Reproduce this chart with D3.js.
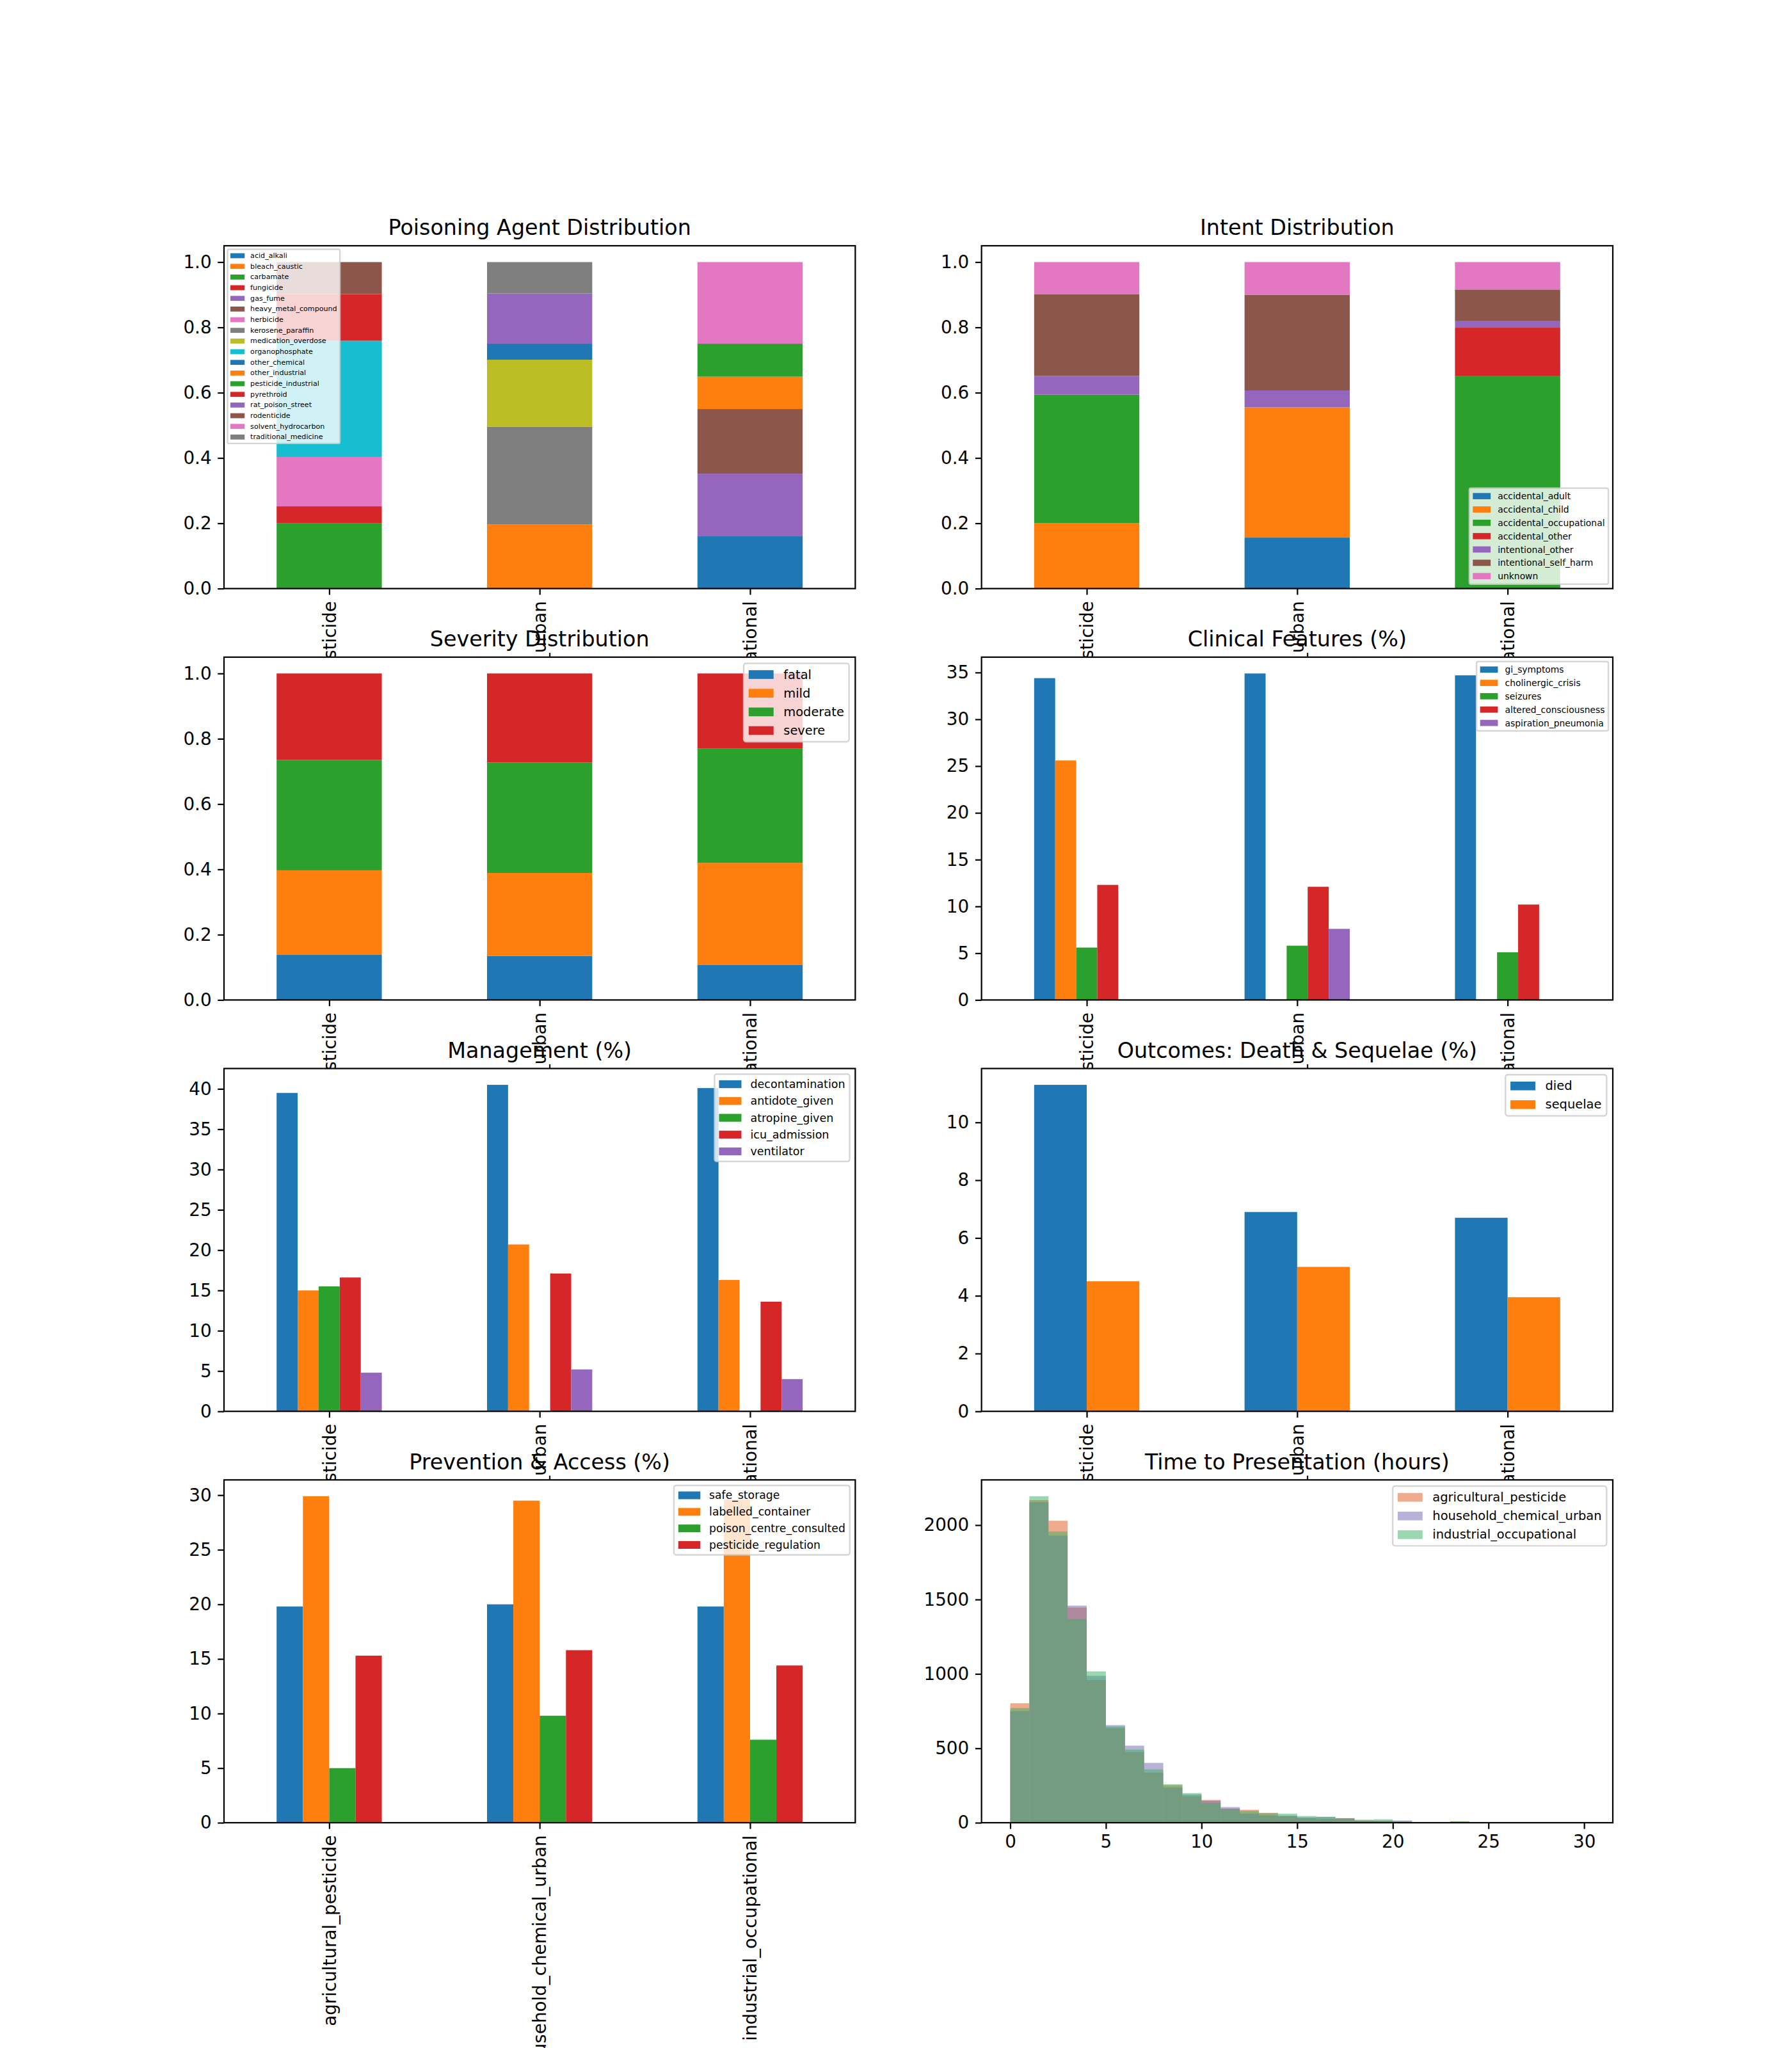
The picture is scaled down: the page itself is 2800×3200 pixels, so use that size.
<!DOCTYPE html>
<html>
<head>
<meta charset="utf-8">
<script src="https://cdn.jsdelivr.net/npm/d3@7"></script>
<style>
  body { margin: 0; background: #fff; }
  text { font-family: "DejaVu Sans", sans-serif; }
</style>
</head>
<body>
<div id="chart"></div>
<script>
// ---- data ----
const scenarios = ["agricultural_pesticide", "household_chemical_urban", "industrial_occupational"];

const agentNames = ["acid_alkali", "bleach_caustic", "carbamate", "fungicide", "gas_fume",
  "heavy_metal_compound", "herbicide", "kerosene_paraffin", "medication_overdose", "organophosphate",
  "other_chemical", "other_industrial", "pesticide_industrial", "pyrethroid", "rat_poison_street",
  "rodenticide", "solvent_hydrocarbon", "traditional_medicine"];
const agentAgri  = [0, 0, .201, .051, 0, 0, .151, 0, 0, .356, 0, 0, 0, .143, 0, .098, 0, 0];
const agentHouse = [0, .197, 0, 0, 0, 0, 0, .299, .205, 0, .049, 0, 0, 0, .154, 0, 0, .096];
const agentInd   = [.160, 0, 0, 0, .192, .198, 0, 0, 0, 0, 0, .099, .101, 0, 0, 0, .250, 0];

const intentNames = ["accidental_adult", "accidental_child", "accidental_occupational",
  "accidental_other", "intentional_other", "intentional_self_harm", "unknown"];
const intentAgri  = [0, .200, .394, 0, .057, .251, .098];
const intentHouse = [.156, .399, 0, 0, .052, .293, .100];
const intentInd   = [0, 0, .652, .147, .020, .097, .084];

const severityNames = ["fatal", "mild", "moderate", "severe"];
const severityAgri  = [.138, .259, .338, .265];
const severityHouse = [.135, .254, .338, .273];
const severityInd   = [.108, .312, .351, .229];

const clinicalNames = ["gi_symptoms", "cholinergic_crisis", "seizures", "altered_consciousness", "aspiration_pneumonia"];
const clinicalAgri  = [34.4, 25.6, 5.6, 12.3, 0];
const clinicalHouse = [34.9, 0, 5.8, 12.1, 7.6];
const clinicalInd   = [34.7, 0, 5.1, 10.2, 0];

const mgmtNames = ["decontamination", "antidote_given", "atropine_given", "icu_admission", "ventilator"];
const mgmtAgri  = [39.5, 15.0, 15.5, 16.6, 4.8];
const mgmtHouse = [40.5, 20.7, 0, 17.1, 5.2];
const mgmtInd   = [40.1, 16.3, 0, 13.6, 4.0];

const outcomeNames = ["died", "sequelae"];
const outcomeAgri  = [11.3, 4.5];
const outcomeHouse = [6.9, 5.0];
const outcomeInd   = [6.7, 3.95];

const prevNames = ["safe_storage", "labelled_container", "poison_centre_consulted", "pesticide_regulation"];
const prevAgri  = [19.8, 29.9, 5.0, 15.3];
const prevHouse = [20.0, 29.5, 9.8, 15.8];
const prevInd   = [19.8, 29.6, 7.6, 14.4];

// time to presentation, counts per 1-hour bin from 0 to 30
const histEdges = d3.range(0, 31);
const histAgri  = [803, 2168, 2029, 1446, 959, 635, 475, 336, 252, 178, 153, 95, 87, 66, 43, 31, 25, 31, 15, 13, 8, 3, 2, 8, 3, 2, 1, 1, 0, 1];
const histHouse = [750, 2155, 1929, 1459, 987, 656, 518, 402, 236, 190, 148, 105, 61, 48, 48, 36, 39, 30, 13, 13, 15, 3, 2, 3, 3, 2, 1, 0, 3, 0];
const histInd   = [771, 2194, 1957, 1368, 1017, 646, 491, 358, 258, 199, 132, 91, 79, 65, 61, 45, 40, 26, 20, 23, 7, 3, 3, 10, 3, 2, 1, 1, 0, 0];
const histColors = ["#e2571b", "#7066b0", "#36b064"];

const shareTicks = [0, .2, .4, .6, .8, 1.0];
const clinicalTicks = d3.range(0, 36, 5);
const mgmtTicks = d3.range(0, 41, 5);
const outcomeTicks = d3.range(0, 11, 2);
const prevTicks = d3.range(0, 31, 5);
const histYTicks = [0, 500, 1000, 1500, 2000];
const histXTicks = [0, 5, 10, 15, 20, 25, 30];

// ---- layout (matplotlib default subplot grid, 200 dpi) ----
const W = 2800, H = 3200;
const pt = 200 / 72;
const figL = 0.125 * W, figR = 0.9 * W, figT = 0.12 * H, figB = 0.89 * H;
const axW = (figR - figL) / 2.2, axH = (figB - figT) / 4.6;
const colX = [figL, figL + axW * 1.2];
const rowY = [0, 1, 2, 3].map(r => figT + r * axH * 1.2);
const tickFs = 10 * pt, titleFs = 12 * pt, tickLen = 3.5 * pt, lw = 0.8 * pt;
const tab10 = d3.schemeCategory10;

const svg = d3.select("#chart").append("svg")
  .attr("width", W).attr("height", H)
  .style("background", "#fff");

function makeAxes(idx, title, yMax, yTicks, yFmt, xDomain) {
  const c = idx % 2, r = Math.floor(idx / 2);
  const g = svg.append("g").attr("transform", `translate(${colX[c]},${rowY[r]})`);
  g.append("rect").attr("width", axW).attr("height", axH).attr("fill", "#fff");
  const x = d3.scaleLinear().domain(xDomain || [-0.5, 2.5]).range([0, axW]);
  const y = d3.scaleLinear().domain([0, yMax]).range([axH, 0]);
  const marks = g.append("g");
  return { g, x, y, marks, title, yTicks, yFmt };
}

function finishAxes(a, xTicks, xFmt, rotated) {
  a.g.append("rect").attr("width", axW).attr("height", axH)
    .attr("fill", "none").attr("stroke", "#000").attr("stroke-width", lw);

  const ya = a.g.append("g")
    .call(d3.axisLeft(a.y).tickValues(a.yTicks).tickFormat(a.yFmt).tickSize(tickLen).tickPadding(tickLen));
  const xa = a.g.append("g").attr("transform", `translate(0,${axH})`)
    .call(d3.axisBottom(a.x).tickValues(xTicks).tickFormat(xFmt).tickSize(tickLen).tickPadding(tickLen));
  [ya, xa].forEach(ax => {
    ax.attr("font-family", "DejaVu Sans").attr("font-size", tickFs);
    ax.select(".domain").remove();
    ax.selectAll("line").attr("stroke", "#000").attr("stroke-width", lw);
    ax.selectAll("text").attr("fill", "#000");
  });
  if (rotated) {
    xa.selectAll("text")
      .attr("transform", "rotate(-90)")
      .attr("x", -2 * tickLen).attr("y", 0).attr("dy", "0.35em")
      .attr("text-anchor", "end");
  }
  a.g.append("text").attr("x", axW / 2).attr("y", -6 * pt)
    .attr("text-anchor", "middle").attr("font-size", titleFs).text(a.title);
}

function legend(a, names, colors, fs, loc, alpha) {
  const lg = a.g.append("g");
  const texts = lg.selectAll("text.lab").data(names).join("text").attr("class", "lab")
    .attr("font-size", fs).text(d => d);
  const tw = d3.max(texts.nodes(), n => n.getComputedTextLength());
  const n = names.length;
  const bw = 3.6 * fs + tw, bh = 0.8 * fs + n * fs + (n - 1) * 0.5 * fs;
  const bx = loc === "ul" ? 0.5 * fs : axW - 0.5 * fs - bw;
  const by = loc === "lr" ? axH - 0.5 * fs - bh : 0.5 * fs;
  lg.insert("rect", ":first-child")
    .attr("x", bx).attr("y", by).attr("width", bw).attr("height", bh)
    .attr("rx", 0.2 * fs).attr("fill", "rgba(255,255,255,0.8)")
    .attr("stroke", "rgba(204,204,204,0.8)").attr("stroke-width", 2.4);
  const rowC = i => by + 0.4 * fs + i * 1.5 * fs + 0.5 * fs;
  lg.selectAll("rect.h").data(names).join("rect").attr("class", "h")
    .attr("x", bx + 0.4 * fs).attr("y", (d, i) => rowC(i) - 0.35 * fs)
    .attr("width", 2 * fs).attr("height", 0.7 * fs)
    .attr("fill", (d, i) => colors[i]).attr("fill-opacity", alpha || 1);
  texts.attr("x", bx + 3.2 * fs).attr("y", (d, i) => rowC(i))
    .attr("dominant-baseline", "central");
}

function stacked(idx, title, names, rows, fs, loc) {
  const a = makeAxes(idx, title, 1.05, shareTicks, d3.format(".1f"));
  const table = rows.map((vals, i) => {
    const o = { pos: i };
    names.forEach((k, j) => { o[k] = vals[j]; });
    return o;
  });
  const series = d3.stack().keys(names)(table);
  a.marks.selectAll("g").data(series).join("g")
    .attr("fill", (d, i) => tab10[i % 10])
    .selectAll("rect").data(d => d).join("rect")
    .attr("x", d => a.x(d.data.pos - 0.25))
    .attr("width", a.x(0.25) - a.x(-0.25))
    .attr("y", d => a.y(d[1]))
    .attr("height", d => a.y(d[0]) - a.y(d[1]));
  finishAxes(a, [0, 1, 2], i => scenarios[i], true);
  legend(a, names, names.map((d, i) => tab10[i % 10]), fs, loc);
}

function grouped(idx, title, names, rows, ticks, fs, loc) {
  const yMax = d3.max(rows.flat()) * 1.05;
  const a = makeAxes(idx, title, yMax, ticks, d3.format("d"));
  const n = names.length, w = 0.5 / n;
  names.forEach((k, j) => {
    a.marks.append("g").attr("fill", tab10[j])
      .selectAll("rect").data(rows.map((vals, i) => ({ pos: i, v: vals[j] }))).join("rect")
      .attr("x", d => a.x(d.pos - 0.25 + j * w))
      .attr("width", a.x(w) - a.x(0))
      .attr("y", d => a.y(d.v))
      .attr("height", d => a.y(0) - a.y(d.v));
  });
  finishAxes(a, [0, 1, 2], i => scenarios[i], true);
  legend(a, names, names.map((d, i) => tab10[i]), fs, loc);
}

stacked(0, "Poisoning Agent Distribution", agentNames, [agentAgri, agentHouse, agentInd], 4 * pt, "ul");
stacked(1, "Intent Distribution", intentNames, [intentAgri, intentHouse, intentInd], 5 * pt, "lr");
stacked(2, "Severity Distribution", severityNames, [severityAgri, severityHouse, severityInd], 7 * pt, "ur");
grouped(3, "Clinical Features (%)", clinicalNames, [clinicalAgri, clinicalHouse, clinicalInd], clinicalTicks, 5 * pt, "ur");
grouped(4, "Management (%)", mgmtNames, [mgmtAgri, mgmtHouse, mgmtInd], mgmtTicks, 6.3 * pt, "ur");
grouped(5, "Outcomes: Death & Sequelae (%)", outcomeNames, [outcomeAgri, outcomeHouse, outcomeInd], outcomeTicks, 7 * pt, "ur");
grouped(6, "Prevention & Access (%)", prevNames, [prevAgri, prevHouse, prevInd], prevTicks, 6.2 * pt, "ur");

// histogram panel
{
  const histSeries = [histAgri, histHouse, histInd];
  const yMax = d3.max(histSeries.flat()) * 1.05;
  const a = makeAxes(7, "Time to Presentation (hours)", yMax, histYTicks, d3.format("d"), [-1.5, 31.5]);
  histSeries.forEach((counts, s) => {
    a.marks.append("g").attr("fill", histColors[s]).attr("fill-opacity", 0.5)
      .selectAll("rect").data(counts.map((c, i) => ({ x0: histEdges[i], x1: histEdges[i + 1], c }))).join("rect")
      .attr("x", d => a.x(d.x0))
      .attr("width", d => a.x(d.x1) - a.x(d.x0))
      .attr("y", d => a.y(d.c))
      .attr("height", d => a.y(0) - a.y(d.c));
  });
  finishAxes(a, histXTicks, d3.format("d"), false);
  legend(a, scenarios, histColors, 7 * pt, "ur", 0.5);
}
</script>
</body>
</html>
